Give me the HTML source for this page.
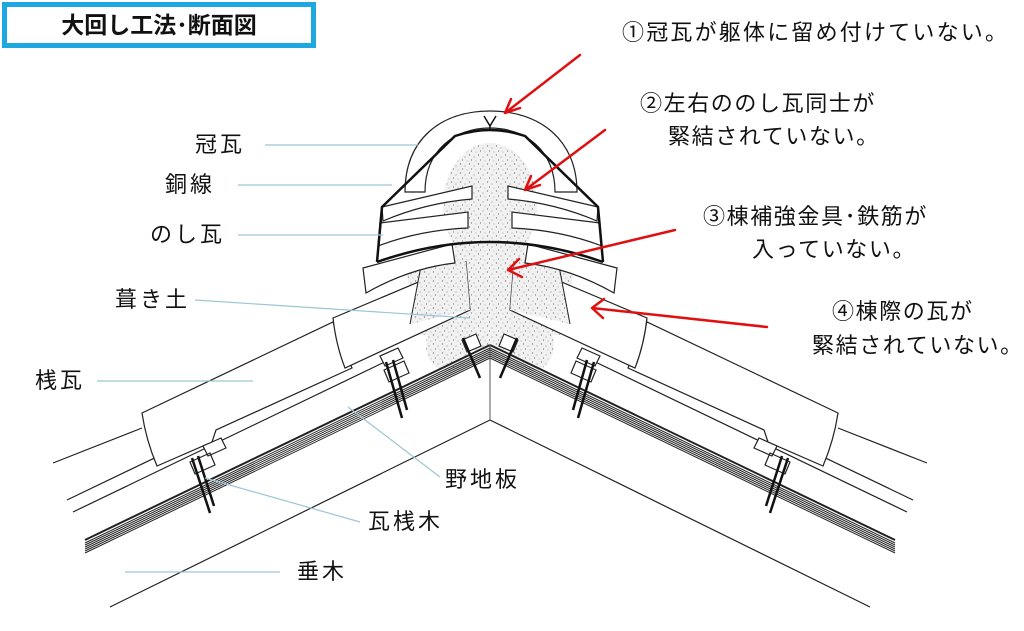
<!DOCTYPE html>
<html><head><meta charset="utf-8"><style>
html,body{margin:0;padding:0;background:#fff;}
body{width:1024px;height:631px;overflow:hidden;position:relative;font-family:"Liberation Sans","Noto Sans CJK JP",sans-serif;}
.t{position:absolute;font-size:21px;color:#111;white-space:nowrap;line-height:1;}
.l{font-size:22px;letter-spacing:3px;}
.r{font-size:22px;letter-spacing:1.6px;}
.title{position:absolute;left:2px;top:2px;width:304px;height:36px;border:5px solid #1ea8e0;font-weight:bold;font-size:23px;text-align:center;line-height:36px;color:#111;}
</style></head><body>
<svg width="1024" height="631" style="position:absolute;left:0;top:0">
<defs>
<pattern id="dots" width="9" height="9" patternUnits="userSpaceOnUse">
<rect width="9" height="9" fill="#f1f1f1"/>
<circle cx="1.5" cy="2" r="0.7" fill="#888"/><circle cx="6" cy="4" r="0.6" fill="#999"/>
<circle cx="3.5" cy="7" r="0.6" fill="#777"/><circle cx="8" cy="8" r="0.5" fill="#999"/>
</pattern>
</defs>
<g fill="url(#dots)" stroke="none">
<ellipse cx="490" cy="205" rx="47" ry="62"/>
<rect x="455" y="190" width="70" height="160"/>
<polygon points="405,268 575,268 560,335 420,335"/>
<ellipse cx="448" cy="345" rx="22" ry="26"/>
<ellipse cx="532" cy="345" rx="22" ry="26"/>
</g>
<g id="L" stroke="#222" stroke-width="1.2" fill="none">
<line x1="110" y1="607" x2="490" y2="420"/>
<g stroke-width="1">
<line x1="85" y1="540" x2="490" y2="345" stroke-width="2"/>
<line x1="85" y1="543" x2="490" y2="348"/>
<line x1="85" y1="545" x2="490" y2="350"/>
<line x1="85" y1="547" x2="490" y2="352"/>
<line x1="85" y1="549" x2="490" y2="354"/>
<line x1="85" y1="551" x2="490" y2="356"/>
<line x1="85" y1="553" x2="490" y2="358"/>
</g>
<line x1="67" y1="500" x2="390" y2="345"/>
<line x1="73" y1="512" x2="395" y2="357"/>
<line x1="53" y1="463" x2="142" y2="428"/>
<path d="M142,413 L333,322 L352,368 L216,430 L212,442 L157,466 Q146,440 142,413 Z" fill="#fff"/>
<path d="M333,318 L466,262 L470,310 L345,368 Q336,345 333,318 Z" fill="#fff"/>
<polygon points="421,266 466,262 470,310 410,324" fill="url(#dots)" stroke="none"/>
<line x1="421" y1="266" x2="410" y2="324" stroke-width="1"/>
<path d="M190,462 l20,-9 l5,12 l-20,9 Z M203,446 l18,-8 l5,10 l-18,8 Z" fill="#fff"/>
<path d="M384,370 l20,-9 l5,12 l-20,9 Z M380,356 l18,-8 l5,10 l-18,8 Z" fill="#fff"/>
<path d="M462,340 l14,-6 l5,12 l-14,6 Z" fill="#fff"/>
<g stroke="#111" stroke-width="2.5">
<line x1="192" y1="458" x2="210" y2="513"/><line x1="198" y1="456" x2="214" y2="506"/>
<line x1="386" y1="362" x2="402" y2="418"/><line x1="393" y1="360" x2="407" y2="410"/>
<line x1="463" y1="338" x2="480" y2="378"/>
</g>
<path d="M363,268 L452,244 L455,263 Q410,268 366,293 Z" fill="#fff"/>
<path d="M380,223 L468,212 L468,228 Q420,230 378,246 Z" fill="#fff"/>
<path d="M382,207 L472,186 L472,199 Q425,203 383,221 Z" fill="#fff"/>
</g>
<use href="#L" transform="translate(980,0) scale(-1,1)"/>
<line x1="490" y1="345" x2="490" y2="420" stroke="#555" stroke-width="1"/>
<path d="M405,192 C405,140 440,111 490,111 C540,111 577,140 577,192 L555,192 C555,150 525,128 490,128 C455,128 425,150 425,192 Z" fill="#fff" stroke="#222" stroke-width="1.2"/>
<path d="M377,262 L382,207 L455,136 Q490,124 525,136 L598,207 L603,262" fill="none" stroke="#111" stroke-width="2.5"/>
<path d="M377,262 Q490,222 603,262" fill="none" stroke="#111" stroke-width="2.5"/>
<path d="M484,116 L490,126 L496,116 M490,126 L490,130" stroke="#111" stroke-width="1.5" fill="none"/>
<g stroke="#9cc6d4" stroke-width="1.2">
<line x1="265" y1="145" x2="418" y2="145"/>
<line x1="238" y1="185" x2="392" y2="185"/>
<line x1="238" y1="235" x2="383" y2="235"/>
<line x1="195" y1="300" x2="470" y2="318"/>
<line x1="97" y1="381" x2="253" y2="381"/>
<line x1="440" y1="477" x2="348" y2="407"/>
<line x1="360" y1="522" x2="205" y2="478"/>
<line x1="125" y1="572" x2="280" y2="572"/>
</g>
<g stroke="#e01010" stroke-width="2.5" fill="none" stroke-linecap="round">
<path d="M580,55 L505,113 M505,113 L511,99 M505,113 L520,108"/>
<path d="M605,130 L525,190 M525,190 L531,176 M525,190 L540,185"/>
<path d="M675,230 L508,270 M508,270 L519,259 M508,270 L522,277"/>
<path d="M767,327 L592,308 M592,308 L604,299 M592,308 L603,318"/>
</g>
</svg>
<div class="title">大回し工法･断面図</div>
<div class="t l" style="left:195px;top:134px">冠瓦</div>
<div class="t l" style="left:165px;top:174px">銅線</div>
<div class="t l" style="left:150px;top:224px">のし瓦</div>
<div class="t l" style="left:115px;top:289px">葺き土</div>
<div class="t l" style="left:35px;top:370px">桟瓦</div>
<div class="t l" style="left:445px;top:469px">野地板</div>
<div class="t l" style="left:368px;top:511px">瓦桟木</div>
<div class="t l" style="left:297px;top:561px">垂木</div>
<div class="t r" style="left:622px;top:22px;letter-spacing:2.2px">①冠瓦が躯体に留め付けていない。</div>
<div class="t r" style="left:640px;top:93px">②左右ののし瓦同士が</div>
<div class="t r" style="left:668px;top:126px">緊結されていない。</div>
<div class="t r" style="left:703px;top:206px">③棟補強金具･鉄筋が</div>
<div class="t r" style="left:752px;top:239px">入っていない。</div>
<div class="t r" style="left:832px;top:301px">④棟際の瓦が</div>
<div class="t r" style="left:812px;top:335px">緊結されていない。</div>
</body></html>
